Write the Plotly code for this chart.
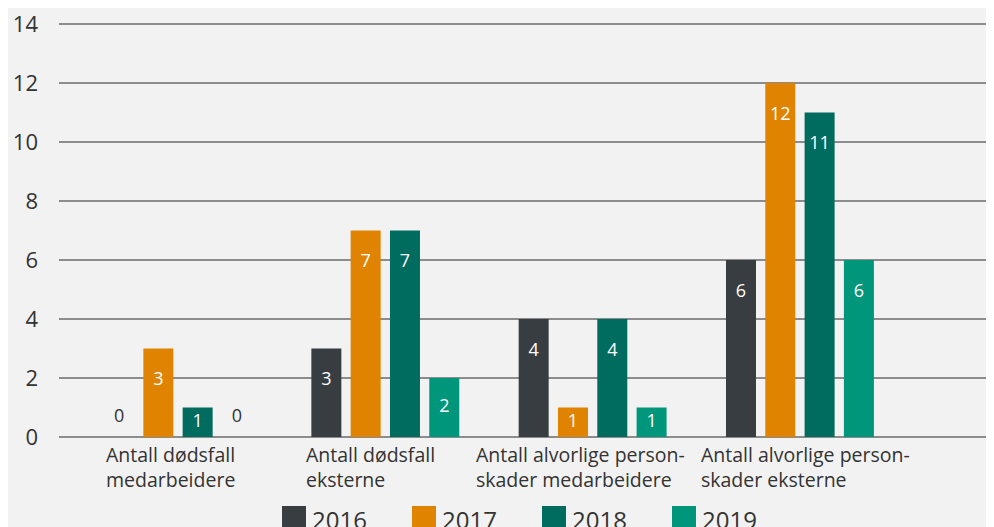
import plotly.graph_objects as go

# data
categories = [
    "Antall dødsfall<br>medarbeidere",
    "Antall dødsfall<br>eksterne",
    "Antall alvorlige person-<br>skader medarbeidere",
    "Antall alvorlige person-<br>skader eksterne",
]
years = ["2016", "2017", "2018", "2019"]
values_2016 = [0, 3, 4, 6]
values_2017 = [3, 7, 1, 12]
values_2018 = [1, 7, 4, 11]
values_2019 = [0, 2, 1, 6]
y_ticks = [0, 2, 4, 6, 8, 10, 12, 14]

series = [values_2016, values_2017, values_2018, values_2019]
colors = ["#383d41", "#e08300", "#006b5f", "#00967b"]

# layout numbers (pixels); the page body adds an 8px offset
OFF = 8
W, H = 994 - OFF, 527 - OFF
y_top = 14.1
ML, MR, MB = 59 - OFF, 0, 90
PH = round(y_top * 29.5)
MT = H - MB - PH
PW = W - ML - MR

slot = 0.1896     # distance between bars in a group, in category units
bar_w = 0.1447    # bar width, in category units
base_pad = 0.08   # bars start just below the zero line
label_shift = [-8, -15, -12, 6]  # category label nudges, px

_fontsize = 19.5
text_color = "#333333"
font_family = "'Open Sans', sans-serif"

fig = go.Figure()

for j, (year, vals) in enumerate(zip(years, series)):
    xs = [i + (j - 1.5) * slot for i in range(len(categories))]
    fig.add_trace(go.Bar(
        x=xs,
        y=[v + base_pad for v in vals],
        base=-base_pad,
        width=bar_w,
        name=year,
        marker=dict(color=colors[j], line=dict(width=0)),
        showlegend=False,
        hoverinfo="skip",
    ))

# value labels
for j, vals in enumerate(series):
    xs = [i + (j - 1.5) * slot for i in range(len(categories))]
    ys = [max(v - 1.1, v / 2) if v > 0 else 0.65 for v in vals]
    tcol = ["#ffffff" if v > 0 else text_color for v in vals]
    fig.add_trace(go.Scatter(
        x=xs,
        y=ys,
        mode="text",
        text=[str(v) for v in vals],
        textfont=dict(size=18, color=tcol, family=font_family),
        showlegend=False,
        hoverinfo="skip",
    ))


def px_x(px):
    return (px - OFF - ML) / PW


def px_y(py):
    return (H - MB - (py - OFF)) / PH


annotations = []

# category labels (left aligned block, centred under group)
for i, cat in enumerate(categories):
    annotations.append(dict(
        x=i,
        xref="x",
        xshift=label_shift[i],
        y=px_y(439),
        yref="paper",
        xanchor="center",
        yanchor="top",
        align="left",
        text=cat,
        showarrow=False,
        font=dict(size=_fontsize, color=text_color, family=font_family),
    ))

# manual legend with large swatches
shapes = []
leg_start = 282
leg_step = 130
sw = 24
for j, year in enumerate(years):
    x0 = leg_start + j * leg_step
    shapes.append(dict(
        type="rect",
        xref="paper", yref="paper",
        x0=px_x(x0), x1=px_x(x0 + sw),
        y0=px_y(506), y1=px_y(506 + sw),
        fillcolor=colors[j],
        line=dict(width=0),
    ))
    annotations.append(dict(
        x=px_x(x0 + sw + 4),
        xref="paper",
        y=px_y(519),
        yref="paper",
        xanchor="left",
        yanchor="middle",
        text=year,
        showarrow=False,
        font=dict(size=24, color=text_color, family=font_family),
    ))

fig.update_layout(
    width=W,
    height=H,
    margin=dict(l=ML, r=MR, t=MT, b=MB),
    paper_bgcolor="#f2f2f2",
    plot_bgcolor="#f2f2f2",
    barmode="overlay",
    font=dict(family=font_family, color=text_color),
    xaxis=dict(
        range=[-0.574, 3.936],
        showticklabels=False,
        showgrid=False,
        zeroline=False,
        fixedrange=True,
    ),
    yaxis=dict(
        range=[0, y_top],
        tickmode="array",
        tickvals=y_ticks,
        ticktext=[str(t) for t in y_ticks],
        tickfont=dict(size=22, color=text_color, family=font_family),
        ticklabelstandoff=20,
        ticklabeloverflow="allow",
        showgrid=True,
        gridcolor="#8c8c8c",
        gridwidth=2,
        zeroline=True,
        zerolinecolor="#8c8c8c",
        zerolinewidth=2,
        showline=False,
        fixedrange=True,
    ),
    annotations=annotations,
    shapes=shapes,
)

fig.write_html("out.html")
